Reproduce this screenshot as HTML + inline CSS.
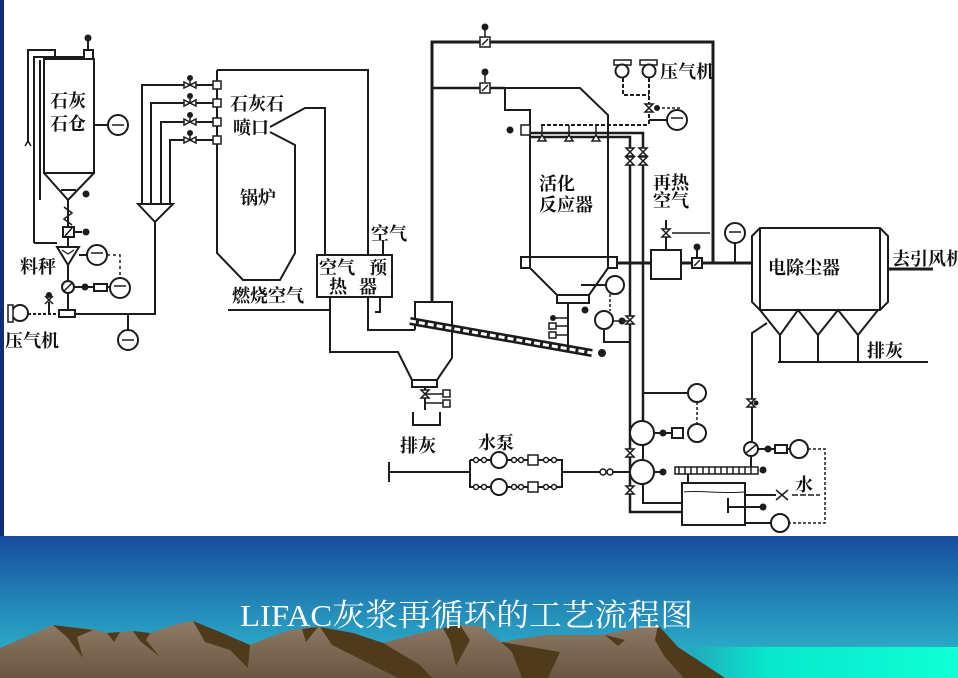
<!DOCTYPE html>
<html><head><meta charset="utf-8"><style>
html,body{margin:0;padding:0;background:#fff;}
svg{display:block;}
.t{font-family:"Liberation Serif","Noto Serif CJK SC",serif;font-weight:700;font-size:18px;fill:#111;}
</style></head><body>
<svg width="958" height="678" viewBox="0 0 958 678" xmlns="http://www.w3.org/2000/svg">
<defs>
<linearGradient id="sky" x1="0" y1="0" x2="0" y2="1">
<stop offset="0" stop-color="#174c9e"/><stop offset="0.45" stop-color="#2383b6"/><stop offset="0.8" stop-color="#2aaac6"/><stop offset="1" stop-color="#2bb6c8"/>
</linearGradient>
<linearGradient id="cy" x1="0" y1="0" x2="1" y2="0">
<stop offset="0" stop-color="#22a8bc"/><stop offset="0.3" stop-color="#08e8cc"/><stop offset="1" stop-color="#10ffd4"/>
</linearGradient>
<linearGradient id="mt" x1="0" y1="0" x2="0" y2="1">
<stop offset="0" stop-color="#8f7b66"/><stop offset="1" stop-color="#6b5640"/>
</linearGradient>
</defs>
<!-- background -->
<rect x="0" y="536" width="958" height="142" fill="url(#sky)"/>
<rect x="0" y="0" width="4" height="536" fill="#0e2f78"/>
<rect x="4" y="0" width="954" height="536" fill="#ffffff"/>
<polygon points="688,647 958,647 958,678 705,678" fill="url(#cy)"/>
<!-- mountains -->
<polygon fill="url(#mt)" points="0,648 53,625 62,627 93,629 107,633 133,631 150,633 180,623 193,621 220,633 250,645 267,638 290,630 310,627 320,627 353,633 383,643 413,635 443,628 460,625 480,626 501,642 545,635 601,635 628,630 658,625 678,647 725,678 0,678"/>
<g fill="#4f3a1c">
<polygon points="53,625 93,630 77,637 83,658 67,637"/>
<polygon points="107,633 120,632 114,642"/>
<polygon points="133,631 150,633 146,640 160,657 140,641"/>
<polygon points="193,621 220,632 250,645 248,668 230,650 205,642"/>
<polygon points="302,629 318,627 306,642"/>
<polygon points="320,627 353,633 383,643 420,665 432,678 398,678 362,660 332,645"/>
<polygon points="443,628 460,625 470,640 456,666 450,641"/>
<polygon points="501,642 560,652 548,678 522,678 512,652"/>
<polygon points="605,635 625,640 618,646"/>
<polygon points="658,625 678,647 725,678 684,678 664,656 655,640"/>
</g>
<text x="240" y="626" font-family="Liberation Serif,'Noto Serif CJK SC',serif" font-size="31" fill="#ffffff" textLength="453" lengthAdjust="spacingAndGlyphs">LIFAC灰浆再循环的工艺流程图</text>

<!-- DIAGRAM -->
<g stroke="#1c1c1c" stroke-width="2" fill="none" stroke-linejoin="miter">
<!-- silo -->
<path d="M44,59 H94 V173 H44 Z"/>
<path d="M44,173 L68,200 L94,173"/>
<path d="M61,190 H76"/>
<rect x="84" y="50" width="9" height="9" fill="#fff"/>
<path d="M88,41 V50"/>
<path d="M28,143 V50 H55 V57"/>
<path d="M34,243 V57 H84"/>
<path d="M40,60 V200"/>
<path d="M25,146 L28,141 L31,146" stroke-width="1.5"/>
<path d="M94,125 H108"/>
<circle cx="118" cy="125" r="10" fill="#fff"/>
<path d="M112,125 H124" stroke-width="1.5"/>
<path d="M68,200 V227"/>
<path d="M64,207 L72,213 L64,219 L72,225" stroke-width="1.5"/>
<rect x="63" y="227" width="11" height="10" fill="#fff"/>
<path d="M65,236 L72,228" stroke-width="1.5"/>
<path d="M74,232 H82"/>
<path d="M68,237 V247"/>
<path d="M57,247 H79 L68,265 Z" fill="#fff"/>
<path d="M62,250 L68,254 L74,250" stroke-width="1.2"/>
<path d="M34,243 H57"/>
<path d="M79,255 H87"/>
<circle cx="97" cy="255" r="10" fill="#fff"/>
<path d="M91,253 H103" stroke-width="1.5"/>
<path d="M107,255 H120 V278" stroke-dasharray="3,3" stroke-width="1.5"/>
<path d="M68,265 V281"/>
<circle cx="68" cy="287" r="6" fill="#fff"/>
<path d="M64,291 L72,283" stroke-width="1.5"/>
<path d="M74,287 H110"/>
<rect x="94" y="284" width="13" height="7" fill="#fff"/>
<circle cx="120" cy="288" r="10" fill="#fff"/>
<path d="M114,286 H126" stroke-width="1.5"/>
<path d="M68,293 V310"/>
<rect x="59" y="310" width="16" height="7" fill="#fff"/>
<circle cx="20" cy="313" r="8" fill="#fff"/>
<rect x="8" y="305" width="5" height="17" fill="#fff" stroke-width="1.5"/>
<path d="M28,314 H59" stroke-dasharray="3,2"/>
<path d="M49,314 V302"/>
<path d="M45,296 L53,304 M53,296 L45,304" stroke-width="1.5"/>
<path d="M75,314 H155 V222"/>
<path d="M128,314 V330"/>
<circle cx="128" cy="340" r="10" fill="#fff"/>
<path d="M122,340 H134" stroke-width="1.5"/>
<!-- funnel and injection lines -->
<path d="M138,204 H173 L155,222 Z" fill="#fff"/>
<path d="M142,204 V85 H217"/>
<path d="M151,204 V103 H217"/>
<path d="M161,204 V122 H217"/>
<path d="M170,204 V140 H217"/>
<!-- boiler -->
<path d="M217,70 V253 L243,280 H280 L295,253 V145 L270,132"/>
<path d="M270,127 L305,108 H325 V255"/>
<path d="M217,70 H368 V255"/>
<!-- air preheater -->
<rect x="317" y="255" width="75" height="42" fill="#fff"/>
<path d="M383,240 V255"/>
<path d="M228,310 H330"/>
<path d="M330,297 V352 H398 L412,380"/>
<path d="M368,297 V330 H415"/>
<path d="M380,297 V312 H375"/>
<!-- cyclone -->
<path d="M415,330 V302 H452 V358 L437,380 H412"/>
<rect x="412" y="380" width="25" height="7" fill="#fff"/>
<path d="M425,387 V410"/>
<path d="M425,394 H443 M425,403 H443" stroke-width="1.5"/>
<path d="M413,412 V425 H440 V412"/>
<!-- conveyor -->
<path d="M410,321 L592,353" stroke-width="8"/>
<path d="M410,321 L592,353" stroke="#fff" stroke-width="3" stroke-dasharray="6,3"/>
<!-- big loop lines -->
<path d="M432,302 V42 H713 V263" stroke-width="3"/>
<path d="M432,88 H505" stroke-width="2.5"/>
<!-- reactor -->
<path d="M505,88 H580 L608,115 V257"/>
<path d="M505,88 V110 H530 V257"/>
<rect x="521" y="257" width="9" height="11" fill="#fff"/>
<rect x="608" y="257" width="9" height="11" fill="#fff"/>
<path d="M530,257 H608"/>
<path d="M530,268 L557,295 M608,268 L589,295"/>
<rect x="557" y="295" width="32" height="8" fill="#fff"/>
<path d="M568,303 V345"/>
<path d="M553,318 H568 M553,326 H568 M553,335 H568" stroke-width="1.5"/>
<path d="M581,285 H606"/>
<circle cx="615" cy="285" r="9" fill="#fff"/>
<path d="M610,294 V311" stroke-dasharray="3,2" stroke-width="1.5"/>
<circle cx="604" cy="320" r="9" fill="#fff"/>
<path d="M604,329 V342 H630"/>
<path d="M613,321 H630" stroke-width="1.5"/>
<!-- spray header -->
<path d="M541,125 H649" stroke-dasharray="4,2"/>
<path d="M623,78 V95 H649 M649,78 V125" stroke-dasharray="4,2"/>
<path d="M522,130 H530"/>
<path d="M530,133 H643 V421" stroke-width="2.5"/>
<path d="M530,137 H630 V512 H682" stroke-width="2.5"/>
<path d="M542,125 V135 M569,125 V135 M596,125 V135" stroke-width="1.5"/>
<path d="M538,141 L542,135 L546,141 Z M565,141 L569,135 L573,141 Z M592,141 L596,135 L600,141 Z" stroke-width="1.5" fill="#fff"/>
<path d="M657,108 H680 V112" stroke-dasharray="3,2" stroke-width="1.5"/>
<path d="M649,120 H667"/>
<circle cx="677" cy="120" r="10" fill="#fff"/>
<path d="M671,118 H683" stroke-width="1.5"/>
<!-- compressors top -->
<rect x="614" y="60" width="17" height="5" fill="#fff" stroke-width="1.5"/>
<rect x="640" y="60" width="17" height="5" fill="#fff" stroke-width="1.5"/>
<circle cx="622" cy="71" r="6.5" fill="#fff"/>
<circle cx="649" cy="71" r="6.5" fill="#fff"/>
<!-- flue to ESP -->
<path d="M616,263 H651" stroke-width="3"/>
<rect x="651" y="250" width="30" height="29" fill="#fff"/>
<path d="M681,263 H752" stroke-width="3"/>
<rect x="692" y="258" width="10" height="10" fill="#fff"/>
<path d="M694,266 L700,260" stroke-width="1.5"/>
<path d="M697,258 V250"/>
<path d="M666,220 V250"/>
<path d="M672,233 H710" stroke-width="1.5"/>
<path d="M735,263 V243"/>
<circle cx="735" cy="233" r="10" fill="#fff"/>
<path d="M729,232 H741" stroke-width="1.5"/>
<!-- ESP -->
<path d="M752,236 L760,228 H880 L888,236 V302 L880,310 H760 L752,302 Z" fill="#fff"/>
<path d="M760,228 V310 M880,228 V310"/>
<path d="M760,310 L780,335 L798,310 L818,335 L838,310 L858,335 L878,310"/>
<path d="M780,335 V362 M818,335 V362 M858,335 V362 M778,362 H928"/>
<path d="M888,269 H933" stroke-width="3"/>
<path d="M767,323 L752,333 V441"/>
<path d="M751,456 V468"/>
<circle cx="751" cy="449" r="7" fill="#fff"/>
<path d="M746,453 L756,445" stroke-width="1.5"/>
<path d="M758,449 H775"/>
<rect x="775" y="445" width="12" height="8" fill="#fff"/>
<path d="M787,449 H790"/>
<circle cx="799" cy="449" r="9" fill="#fff"/>
<path d="M808,449 H825 V523 H789" stroke-dasharray="3,2" stroke-width="1.5"/>
<circle cx="780" cy="523" r="9" fill="#fff"/>
<path d="M745,523 H771"/>
<!-- header & tank -->
<rect x="675" y="467" width="83" height="7" fill="#fff" stroke-width="1.5"/>
<path d="M679,467 V474 M685,467 V474 M691,467 V474 M697,467 V474 M703,467 V474 M709,467 V474 M715,467 V474 M721,467 V474 M727,467 V474 M733,467 V474 M739,467 V474 M745,467 V474 M751,467 V474" stroke-width="1.5"/>
<path d="M688,474 V483"/>
<rect x="682" y="483" width="63" height="42" fill="#fff"/>
<path d="M684,492 C700,490 720,494 744,492" stroke-width="1"/>
<path d="M728,498 V513 M728,507 H763"/>
<path d="M745,495 H776"/>
<path d="M776,490 L788,500 M788,490 L776,500" stroke-width="1.5"/>
<path d="M792,495 H820" stroke-dasharray="6,2" stroke-width="1.5"/>
<!-- pumps right -->
<circle cx="642" cy="433" r="12" fill="#fff"/>
<circle cx="642" cy="472" r="12" fill="#fff"/>
<path d="M643,445 V460"/>
<path d="M643,484 V503 H682"/>
<path d="M643,393 H688"/>
<circle cx="697" cy="393" r="9" fill="#fff"/>
<path d="M697,402 V424" stroke-dasharray="3,2" stroke-width="1.5"/>
<path d="M654,433 H672"/>
<rect x="672" y="428" width="11" height="10" fill="#fff"/>
<circle cx="697" cy="433" r="9" fill="#fff"/>
<path d="M654,472 H660"/>
<!-- water pumps -->
<path d="M389,462 V482 M389,472 H470"/>
<path d="M470,460 V487 H562 V460 H470"/>
<circle cx="499" cy="460" r="8" fill="#fff"/>
<circle cx="499" cy="487" r="8" fill="#fff"/>
<rect x="528" y="455" width="10" height="10" fill="#fff" stroke-width="1.5"/>
<rect x="528" y="482" width="10" height="10" fill="#fff" stroke-width="1.5"/>
<path d="M562,472 H630"/>
</g>
<!-- small filled dots & valve glyph shapes -->
<g fill="#1c1c1c">
<circle cx="88" cy="38" r="3.5"/>
<circle cx="86" cy="194" r="3.5"/>
<circle cx="86" cy="232" r="3.5"/>
<circle cx="85" cy="287" r="3.5"/>
<circle cx="49" cy="295" r="3"/>
<circle cx="190" cy="78" r="3"/><circle cx="190" cy="96" r="3"/><circle cx="190" cy="115" r="3"/><circle cx="190" cy="133" r="3"/>
<circle cx="485" cy="27" r="3.5"/>
<circle cx="485" cy="72" r="3.5"/>
<circle cx="697" cy="247" r="3.5"/>
<circle cx="510" cy="130" r="3.5"/>
<circle cx="657" cy="108" r="3"/>
<circle cx="585" cy="310" r="3.5"/>
<circle cx="553" cy="318" r="3"/>
<circle cx="602" cy="353" r="4"/>
<circle cx="622" cy="321" r="3.5"/>
<circle cx="663" cy="433" r="3.5"/>
<circle cx="663" cy="472" r="3.5"/>
<circle cx="768" cy="449" r="3.5"/>
<circle cx="763" cy="470" r="3.5"/>
<circle cx="763" cy="507" r="3.5"/>
<circle cx="756" cy="403" r="2.5"/>
</g>
<g stroke="#1c1c1c" stroke-width="1.5" fill="#fff">
<!-- valves on injection lines -->
<path d="M190,81 V85 M190,99 V103 M190,118 V122 M190,136 V140" fill="none"/>
<path d="M184,82 L196,88 L196,82 L184,88 Z"/>
<path d="M184,100 L196,106 L196,100 L184,106 Z"/>
<path d="M184,119 L196,125 L196,119 L184,125 Z"/>
<path d="M184,137 L196,143 L196,137 L184,143 Z"/>
<rect x="213" y="81" width="8" height="8"/>
<rect x="213" y="99" width="8" height="8"/>
<rect x="213" y="118" width="8" height="8"/>
<rect x="213" y="136" width="8" height="8"/>
<!-- top valves -->
<path d="M485,30 V37 M485,75 V82" fill="none"/>
<rect x="480" y="37" width="10" height="10"/>
<rect x="480" y="83" width="10" height="10"/>
<path d="M482,45 L488,39 M482,91 L488,85" fill="none"/>
<!-- double valves on verticals -->
<path d="M626,148 L634,156 L626,156 L634,148 Z"/>
<path d="M639,148 L647,156 L639,156 L647,148 Z"/>
<path d="M626,157 L634,165 L626,165 L634,157 Z"/>
<path d="M639,157 L647,165 L639,165 L647,157 Z"/>
<path d="M645,104 L653,112 L645,112 L653,104 Z"/>
<path d="M626,316 L634,324 L626,324 L634,316 Z"/>
<path d="M662,229 L670,237 L662,237 L670,229 Z"/>
<path d="M626,449 L634,457 L626,457 L634,449 Z"/>
<path d="M626,486 L634,494 L626,494 L634,486 Z"/>
<path d="M747,399 L755,407 L747,407 L755,399 Z"/>
<path d="M421,390 L429,398 L421,398 L429,390 Z"/>
<rect x="443" y="390" width="7" height="7"/>
<rect x="443" y="400" width="7" height="7"/>
<rect x="549" y="323" width="7" height="6"/>
<rect x="549" y="332" width="7" height="6"/>
<rect x="521" y="125" width="9" height="10"/>
<circle cx="603" cy="472" r="3"/><circle cx="610" cy="472" r="3"/>
<circle cx="476" cy="460" r="2.5"/><circle cx="484" cy="460" r="2.5"/>
<circle cx="476" cy="487" r="2.5"/><circle cx="484" cy="487" r="2.5"/>
<circle cx="514" cy="460" r="2.5"/><circle cx="521" cy="460" r="2.5"/>
<circle cx="514" cy="487" r="2.5"/><circle cx="521" cy="487" r="2.5"/>
<circle cx="546" cy="460" r="2.5"/><circle cx="554" cy="460" r="2.5"/>
<circle cx="546" cy="487" r="2.5"/><circle cx="554" cy="487" r="2.5"/>
</g>
<!-- labels -->
<g class="t">
<text class="t" x="50" y="107">石灰</text>
<text class="t" x="50" y="130">石仓</text>
<text class="t" x="20" y="273">料秤</text>
<text class="t" x="5" y="347">压气机</text>
<text class="t" x="230" y="110">石灰石</text>
<text class="t" x="233" y="134">喷口</text>
<text class="t" x="240" y="204">锅炉</text>
<text class="t" x="371" y="240">空气</text>
<text class="t" x="319" y="274">空气</text>
<text class="t" x="369" y="274">预</text>
<text class="t" x="329" y="293">热</text>
<text class="t" x="359" y="293">器</text>
<text class="t" x="232" y="302">燃烧空气</text>
<text class="t" x="400" y="452">排灰</text>
<text class="t" x="478" y="449">水泵</text>
<text class="t" x="539" y="190">活化</text>
<text class="t" x="539" y="211">反应器</text>
<text class="t" x="660" y="78">压气机</text>
<text class="t" x="653" y="189">再热</text>
<text class="t" x="653" y="207">空气</text>
<text class="t" x="768" y="274">电除尘器</text>
<text class="t" x="892" y="265">去引风机</text>
<text class="t" x="867" y="357">排灰</text>
<text class="t" x="795" y="491">水</text>
</g>
</svg>
</body></html>
